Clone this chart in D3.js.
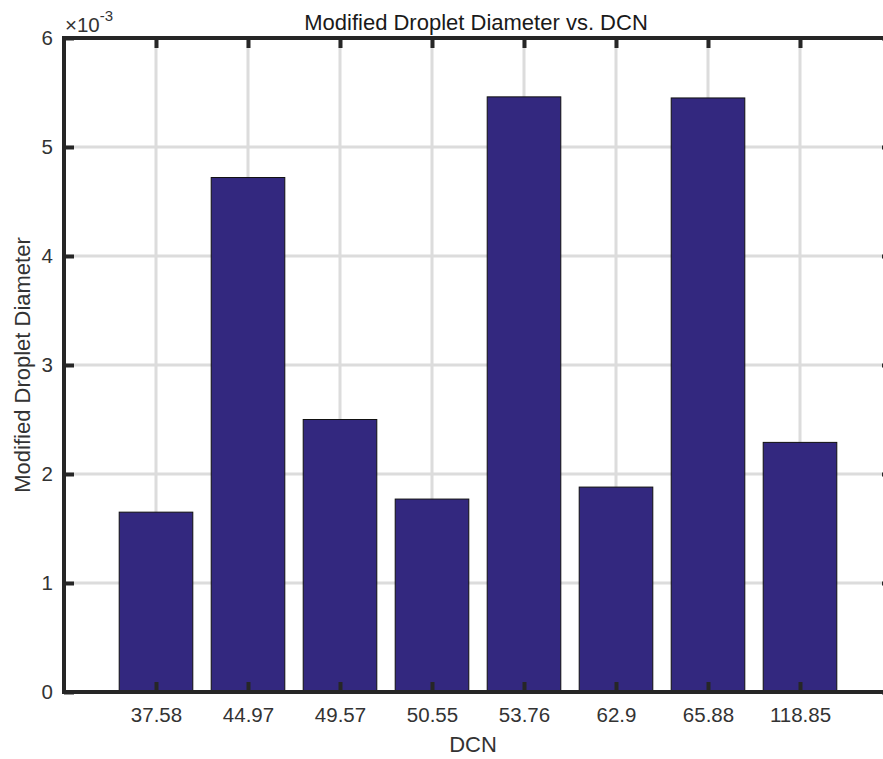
<!DOCTYPE html>
<html>
<head>
<meta charset="utf-8">
<script src="https://cdn.jsdelivr.net/npm/d3@7"></script>
<style>
  html, body { margin: 0; padding: 0; background: #fff; }
  svg { display: block; font-family: "Liberation Sans", Arial, Helvetica, sans-serif; }
</style>
</head>
<body>
<svg id="chart" width="883" height="759"></svg>
<script>
// DCN categories and the modified droplet diameter measured for each
const categories = ["37.58", "44.97", "49.57", "50.55", "53.76", "62.9", "65.88", "118.85"];
const diameters = [0.00165, 0.00472, 0.00250, 0.00177, 0.00546, 0.00188, 0.00545, 0.00229];
const yTicks = [0, 0.001, 0.002, 0.003, 0.004, 0.005, 0.006];
const exponent = -3;

const titleText = "Modified Droplet Diameter vs. DCN";
const xLabel = "DCN";
const yLabel = "Modified Droplet Diameter";

const svg = d3.select("#chart");
const plotLeft = 64, plotTop = 38, plotRight = 892, plotBottom = 692;

// bars sit at positions 1..n on a numeric axis running from 0 to n+1
const x = d3.scaleLinear().domain([0, categories.length + 1]).range([plotLeft, plotRight]);
const y = d3.scaleLinear().domain([0, 0.006]).range([plotBottom, plotTop]);
const positions = categories.map((c, i) => i + 1);
const barW = 0.8;

const axisColor = "#262626";
const textColor = "#333";
const gridColor = "#dcdcdc";
const barColor = "#33287f";
const tickFont = "20.5px";
const labelFont = "22px";

svg.append("defs").append("clipPath").attr("id", "plotClip")
  .append("rect").attr("x", plotLeft).attr("y", plotTop)
  .attr("width", plotRight - plotLeft).attr("height", plotBottom - plotTop);

const plot = svg.append("g").attr("clip-path", "url(#plotClip)");

// grid
plot.selectAll("line.hgrid").data(yTicks).join("line")
  .attr("class", "hgrid")
  .attr("x1", plotLeft).attr("x2", plotRight)
  .attr("y1", d => y(d)).attr("y2", d => y(d))
  .attr("stroke", gridColor).attr("stroke-width", 3);
plot.selectAll("line.vgrid").data(positions).join("line")
  .attr("class", "vgrid")
  .attr("x1", d => x(d)).attr("x2", d => x(d))
  .attr("y1", plotTop).attr("y2", plotBottom)
  .attr("stroke", gridColor).attr("stroke-width", 3);

// bars
plot.selectAll("rect.bar").data(diameters).join("rect")
  .attr("class", "bar")
  .attr("x", (d, i) => x(positions[i] - barW / 2))
  .attr("width", (d, i) => x(positions[i] + barW / 2) - x(positions[i] - barW / 2))
  .attr("y", d => y(d))
  .attr("height", d => y(0) - y(d))
  .attr("fill", barColor)
  .attr("stroke", "#111").attr("stroke-width", 1);

// axes with inward ticks on all four sides
const tickLen = 10;
const axisG = svg.append("g");
const fmtY = d => d3.format("d")(Math.round(d / Math.pow(10, exponent)));

const yLeft = d3.axisLeft(y).tickValues(yTicks).tickSize(-tickLen).tickPadding(11).tickFormat(fmtY);
const yRight = d3.axisRight(y).tickValues(yTicks).tickSize(-tickLen).tickFormat("");
const xBottom = d3.axisBottom(x).tickValues(positions).tickSize(-tickLen).tickPadding(15)
  .tickFormat((d, i) => categories[i]);
const xTop = d3.axisTop(x).tickValues(positions).tickSize(-tickLen).tickFormat("");

function style(g) {
  g.select(".domain").remove();
  g.selectAll(".tick line").attr("stroke", axisColor).attr("stroke-width", 4);
  g.selectAll(".tick text").attr("fill", textColor).style("font-size", tickFont)
    .style("font-family", "'Liberation Sans', Arial, sans-serif");
}

axisG.append("g").attr("transform", `translate(${plotLeft},0)`).call(yLeft).call(style);
axisG.append("g").attr("transform", `translate(${plotRight},0)`).call(yRight).call(style);
axisG.append("g").attr("transform", `translate(0,${plotBottom})`).call(xBottom).call(style);
axisG.append("g").attr("transform", `translate(0,${plotTop})`).call(xTop).call(style);

// box outline
axisG.append("rect")
  .attr("x", plotLeft).attr("y", plotTop)
  .attr("width", plotRight - plotLeft).attr("height", plotBottom - plotTop)
  .attr("fill", "none").attr("stroke", axisColor).attr("stroke-width", 4);

// exponent label
const expText = svg.append("text").attr("x", plotLeft + 1).attr("y", 32)
  .attr("fill", textColor).style("font-size", tickFont);
expText.append("tspan").text("\u00d710");
expText.append("tspan").attr("dy", -11).style("font-size", "15px").text(String(exponent));

// title and axis labels
svg.append("text").attr("x", (plotLeft + plotRight) / 2 - 2).attr("y", 30)
  .attr("text-anchor", "middle").attr("fill", "#1a1a1a").style("font-size", labelFont)
  .text(titleText);
svg.append("text").attr("x", (plotLeft + plotRight) / 2 - 5).attr("y", 752)
  .attr("text-anchor", "middle").attr("fill", textColor).style("font-size", labelFont)
  .text(xLabel);
svg.append("text").attr("transform", `translate(30,${(plotTop + plotBottom) / 2}) rotate(-90)`)
  .attr("text-anchor", "middle").attr("fill", textColor).style("font-size", labelFont)
  .text(yLabel);
</script>
</body>
</html>
